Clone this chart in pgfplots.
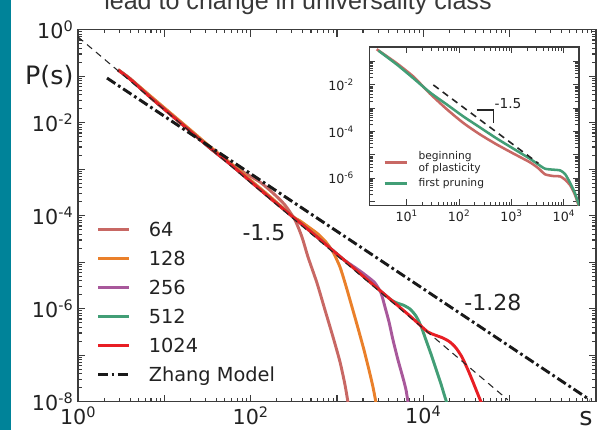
\documentclass[border=0pt]{standalone}
\usepackage{pgfplots}
\pgfplotsset{compat=1.18}
\usepackage{pgfplotstable}
\usepackage{fontspec}
\setmainfont{DejaVu Sans}
\newfontfamily\titlefont{Liberation Sans}

\definecolor{c64}{RGB}{200,104,100}
\definecolor{c128}{RGB}{234,128,42}
\definecolor{c256}{RGB}{168,88,155}
\definecolor{c512}{RGB}{66,158,118}
\definecolor{c1024}{RGB}{232,30,36}
\definecolor{teal0}{RGB}{0,131,153}
\definecolor{axgray}{RGB}{60,60,60}
\definecolor{txt}{RGB}{34,34,34}

% log10(s)  log10(P(s))
\pgfplotstableread{
ls lp
0.463 -0.857
0.601 -1.050
0.833 -1.432
1.065 -1.798
1.297 -2.163
1.528 -2.529
1.760 -2.876
1.934 -3.082
2.108 -3.276
2.258 -3.512
2.397 -3.770
2.513 -4.092
2.594 -4.458
2.664 -4.888
2.768 -5.447
2.861 -6.028
2.954 -6.609
3.035 -7.146
3.093 -7.641
3.135 -8.100
}\tabA

\pgfplotstableread{
ls lp
0.463 -0.862
0.601 -1.050
0.833 -1.417
1.065 -1.783
1.297 -2.148
1.528 -2.514
1.760 -2.858
1.992 -3.224
2.224 -3.589
2.490 -4.018
2.571 -4.110
2.687 -4.265
2.780 -4.394
2.872 -4.566
2.954 -4.781
3.035 -5.104
3.104 -5.512
3.174 -5.964
3.243 -6.415
3.313 -6.888
3.371 -7.318
3.417 -7.684
3.460 -8.100
}\tabB

\pgfplotstableread{
ls lp
0.463 -0.867
0.601 -1.060
0.833 -1.447
1.065 -1.813
1.297 -2.178
1.528 -2.544
1.760 -2.888
1.992 -3.254
2.224 -3.619
2.490 -4.028
2.687 -4.329
2.919 -4.695
3.035 -4.890
3.151 -5.040
3.267 -5.189
3.360 -5.320
3.440 -5.447
3.510 -5.662
3.556 -5.963
3.603 -6.286
3.649 -6.673
3.707 -7.103
3.765 -7.490
3.800 -7.748
3.830 -8.100
}\tabC

\pgfplotstableread{
ls lp
0.463 -0.867
0.601 -1.060
0.833 -1.447
1.065 -1.813
1.297 -2.178
1.528 -2.544
1.760 -2.888
1.992 -3.254
2.224 -3.619
2.490 -4.028
2.687 -4.329
2.919 -4.695
3.151 -5.060
3.382 -5.426
3.614 -5.791
3.695 -5.877
3.765 -5.920
3.846 -6.006
3.915 -6.157
3.973 -6.372
4.031 -6.673
4.089 -6.974
4.147 -7.297
4.205 -7.619
4.240 -7.834
4.285 -8.100
}\tabD

\pgfplotstableread{
ls lp
0.463 -0.867
0.601 -1.060
0.833 -1.447
1.065 -1.813
1.297 -2.178
1.528 -2.544
1.760 -2.888
1.992 -3.254
2.224 -3.619
2.490 -4.028
2.687 -4.329
2.919 -4.695
3.151 -5.060
3.382 -5.426
3.614 -5.791
3.846 -6.157
3.961 -6.351
4.054 -6.501
4.135 -6.566
4.228 -6.630
4.309 -6.716
4.379 -6.845
4.448 -7.039
4.518 -7.318
4.576 -7.576
4.622 -7.791
4.690 -8.100
}\tabE

% inset
\pgfplotstableread{
ls lp
0.427 -0.469
0.809 -1.070
1.127 -1.640
1.317 -2.080
1.445 -2.378
1.763 -3.038
2.081 -3.631
2.399 -4.123
2.717 -4.552
3.035 -4.941
3.353 -5.319
3.512 -5.574
3.639 -5.830
3.798 -5.906
3.926 -5.920
4.021 -6.062
4.116 -6.292
4.212 -6.721
4.307 -7.365
}\tabIR

\pgfplotstableread{
ls lp
0.459 -0.527
0.809 -1.120
1.127 -1.714
1.445 -2.323
1.763 -2.835
2.081 -3.352
2.399 -3.824
2.717 -4.296
3.035 -4.732
3.353 -5.167
3.512 -5.412
3.639 -5.591
3.798 -5.634
3.926 -5.662
4.021 -5.820
4.116 -6.192
4.212 -6.649
4.307 -7.293
}\tabIG

\begin{document}
\begin{tikzpicture}
\fill[teal0] (-58.575pt,-21.225pt) rectangle (-50.325pt,301.275pt);
\node[font=\titlefont\fontsize{18.8}{20}\selectfont, text=black!78, anchor=base] at (164.9pt,294.3pt) {lead to change in universality class};

\begin{axis}[
  name=main,
  xmode=log, ymode=log,
  scale only axis, width=388.35pt, height=279pt,
  xmin=1, xmax=1e6, ymin=1e-8, ymax=1,
  axis line style={axgray, line width=1pt},
  every tick/.style={axgray, line width=0.8pt},
  tick align=inside,
  major tick length=5.25pt, minor tick length=2.8pt,
  xtick={1,10,100,1000,10000,100000,1000000},
  xticklabels={10\textsuperscript{0},,10\textsuperscript{2},,10\textsuperscript{4},,},
  minor xtick={2,3,4,5,6,7,8,9,20,30,40,50,60,70,80,90,200,300,400,500,600,700,800,900,2000,3000,4000,5000,6000,7000,8000,9000,20000,30000,40000,50000,60000,70000,80000,90000,200000,300000,400000,500000,600000,700000,800000,900000},
  ytick={1e-8,1e-7,1e-6,1e-5,1e-4,1e-3,1e-2,1e-1,1},
  yticklabels={10\textsuperscript{-8},,10\textsuperscript{-6},,10\textsuperscript{-4},,10\textsuperscript{-2},{\fontsize{19}{19}\selectfont P(s)},10\textsuperscript{0}},
  minor ytick={2e-8,3e-8,4e-8,5e-8,6e-8,7e-8,8e-8,9e-8,2e-7,3e-7,4e-7,5e-7,6e-7,7e-7,8e-7,9e-7,2e-6,3e-6,4e-6,5e-6,6e-6,7e-6,8e-6,9e-6,2e-5,3e-5,4e-5,5e-5,6e-5,7e-5,8e-5,9e-5,2e-4,3e-4,4e-4,5e-4,6e-4,7e-4,8e-4,9e-4,0.002,0.003,0.004,0.005,0.006,0.007,0.008,0.009,0.02,0.03,0.04,0.05,0.06,0.07,0.08,0.09,0.2,0.3,0.4,0.5,0.6,0.7,0.8,0.9},
  ticklabel style={font=\fontsize{15.5}{15.5}\selectfont, text=txt},
  legend style={at={(0.036,0.486)}, anchor=north west, draw=none, fill=none,
    inner sep=0pt, outer sep=0pt, font=\fontsize{14.5}{14.5}\selectfont, text=txt,
    row sep=8.75pt, nodes={inner sep=1pt, text height=11pt, text depth=0pt}},
  legend cell align=left,
  legend image code/.code={\draw[#1] (0pt,0pt) -- (23.25pt,0pt); \path[draw=none,fill=none] (0pt,0pt) -- (37pt,0pt);},
]
\addplot[c64, line width=2.2pt, smooth, tension=0.4] table[x expr=10^(\thisrow{ls}), y expr=10^(\thisrow{lp})] {\tabA};
\addlegendentry{64}
\addplot[c128, line width=2.2pt, smooth, tension=0.4] table[x expr=10^(\thisrow{ls}), y expr=10^(\thisrow{lp})] {\tabB};
\addlegendentry{128}
\addplot[c256, line width=2.2pt, smooth, tension=0.4] table[x expr=10^(\thisrow{ls}), y expr=10^(\thisrow{lp})] {\tabC};
\addlegendentry{256}
\addplot[c512, line width=2.2pt, smooth, tension=0.4] table[x expr=10^(\thisrow{ls}), y expr=10^(\thisrow{lp})] {\tabD};
\addlegendentry{512}
\addplot[c1024, line width=2.2pt, smooth, tension=0.4] table[x expr=10^(\thisrow{ls}), y expr=10^(\thisrow{lp})] {\tabE};
\addlegendentry{1024}
\addplot[black!85, line width=0.8pt, dash pattern=on 5pt off 3.75pt, forget plot] coordinates {(1,0.6966) (95500,1.096e-8)};
\addplot[black!90, line width=2.2pt, dash pattern=on 7.5pt off 2.5pt on 2pt off 2.5pt] coordinates {(2.163,0.0914) (851000,1.096e-8)};
\addlegendentry{Zhang Model}
\node[font=\fontsize{16.5}{16.5}\selectfont, text=txt] at (rel axis cs:0.359,0.4535) {-1.5};
\node[font=\fontsize{16.5}{16.5}\selectfont, text=txt] at (rel axis cs:0.801,0.268) {-1.28};
\end{axis}

\node[font=\fontsize{19}{19}\selectfont, text=txt, anchor=base] at (380.9pt,-17.5pt) {s};

\begin{axis}[
  at={(218.4pt,147.2pt)}, anchor=south west,
  xmode=log, ymode=log,
  scale only axis, width=157.3pt, height=118.9pt,
  xmin=1.932, xmax=19410, ymin=6.81e-8, ymax=0.4276,
  axis background/.style={fill=white},
  axis line style={axgray, line width=0.9pt},
  every tick/.style={axgray, line width=0.7pt},
  tick align=inside, major tick length=4.5pt,
  xtick={10,100,1000,10000},
  xticklabels={10\textsuperscript{1},10\textsuperscript{2},10\textsuperscript{3},10\textsuperscript{4}},
  ytick={1e-7,1e-6,1e-5,1e-4,1e-3,1e-2,1e-1},
  yticklabels={,10\textsuperscript{-6},,10\textsuperscript{-4},,10\textsuperscript{-2},},
  minor xtick={}, minor ytick={},
  ticklabel style={font=\fontsize{9.5}{9.5}\selectfont, text=txt},
  yticklabel style={xshift=-8pt},
  legend style={at={(0.067,0.344)}, anchor=north west, draw=none, fill=none,
    inner sep=0pt, outer sep=0pt, font=\fontsize{8}{8.5}\selectfont, text=txt,
    row sep=3pt, cells={anchor=west, align=left}, nodes={inner sep=0.5pt}},
  legend image code/.code={\draw[#1] (0pt,0pt) -- (17pt,0pt); \path[draw=none,fill=none] (0pt,0pt) -- (25pt,0pt);},
]
\addplot[c64, line width=1.9pt, smooth, tension=0.4] table[x expr=10^(\thisrow{ls}), y expr=10^(\thisrow{lp})] {\tabIR};
\addlegendentry{beginning\\of plasticity}
\addplot[c512, line width=1.9pt, smooth, tension=0.4] table[x expr=10^(\thisrow{ls}), y expr=10^(\thisrow{lp})] {\tabIG};
\addlegendentry{first pruning}
\addplot[black!85, line width=1.2pt, dash pattern=on 5pt off 3.75pt, forget plot] coordinates {(32.2,0.01) (3251,4.345e-6)};
\addplot[black!85, line width=0.8pt, forget plot] coordinates {(216.8,8.45e-4) (449.8,8.45e-4) (449.8,2.41e-4)};
\node[font=\fontsize{10.3}{10.3}\selectfont, text=txt] at (axis cs:857,1.53e-3) {-1.5};
\end{axis}

\pgfresetboundingbox
\path[use as bounding box] (-58.575pt,-21.225pt) rectangle (394.425pt,301.275pt);
\end{tikzpicture}
\end{document}
